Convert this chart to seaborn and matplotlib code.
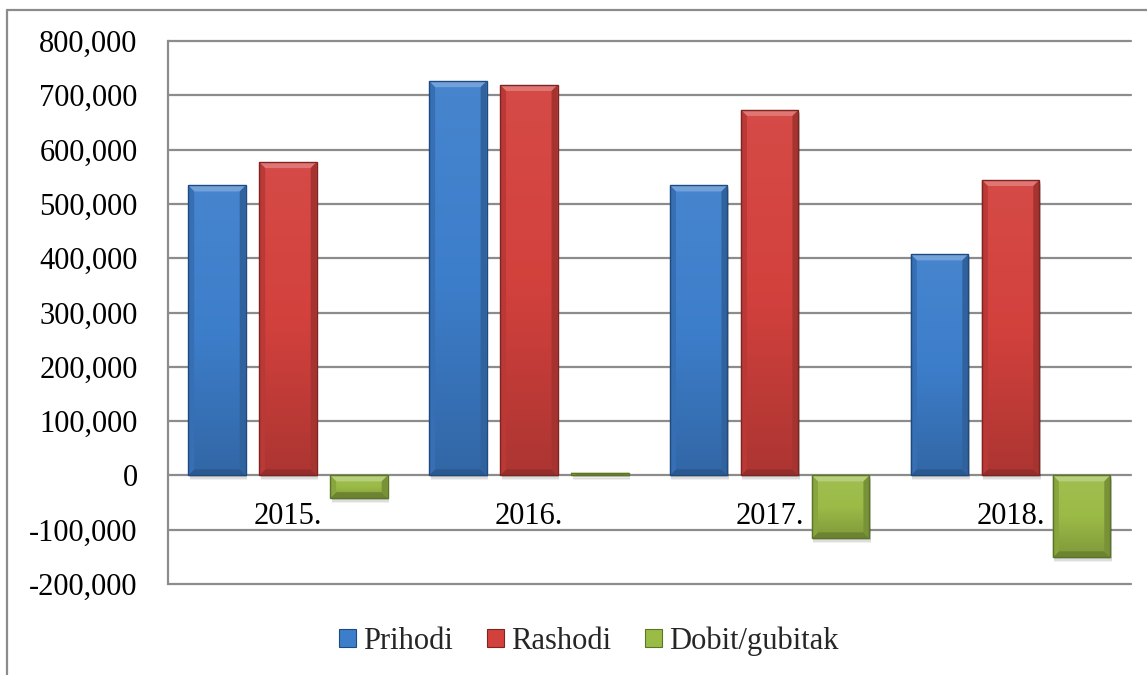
import matplotlib
matplotlib.use('Agg')
import matplotlib.pyplot as plt
import matplotlib.colors as mcolors
from matplotlib.patches import Patch, Polygon, Rectangle
from matplotlib.lines import Line2D
from matplotlib.ticker import FuncFormatter
import numpy as np
import pandas as pd
import seaborn as sns

# Data
years = ['2015.', '2016.', '2017.', '2018.']
series = ['Prihodi', 'Rashodi', 'Dobit/gubitak']
prihodi = [534000, 726000, 534000, 407000]
rashodi = [577000, 719000, 673000, 544000]
dobit = [-42000, 5000, -116000, -151000]

colors = ['#3D7ECB', '#D3413D', '#9BBB47']
edges = ['#1F4A80', '#7E2421', '#5A7526']

df = pd.DataFrame({
    'Godina': years * 3,
    'Serija': [s for s in series for _ in years],
    'Iznos': prihodi + rashodi + dobit,
})

sns.set_theme(style='white')
plt.rcParams['font.family'] = ['Liberation Serif', 'DejaVu Serif']

W, H = 1147, 675
fig = plt.figure(figsize=(W / 100, H / 100), dpi=100)
ax = fig.add_axes([167.5 / W, 1 - 584 / H, (1131 - 167.5) / W, (584 - 41) / H])

sns.barplot(data=df, x='Godina', y='Iznos', hue='Serija', palette=colors,
            width=0.884, gap=0.19, saturation=1, legend=False, ax=ax,
            linewidth=0)

ax.set_xlim(-0.5, 3.5)
ax.set_ylim(-200000, 800000)
ax.set_yticks(range(-200000, 800001, 100000))
ax.yaxis.set_major_formatter(FuncFormatter(lambda v, p: f'{int(v):,}'))
ax.set_xlabel('')
ax.set_ylabel('')

grid_c = '#8C8C8C'
ax.set_axisbelow(True)
ax.yaxis.grid(True, color=grid_c, lw=1.6)
for gl in ax.get_ygridlines():
    gl.set_clip_on(False)
for s in ['top', 'right']:
    ax.spines[s].set_visible(False)
ax.spines['left'].set_color(grid_c)
ax.spines['left'].set_linewidth(1.6)
ax.spines['bottom'].set_position(('data', 0))
ax.spines['bottom'].set_visible(False)
ax.tick_params(axis='y', length=0, pad=21.5, labelsize=22, labelcolor='black')
ax.tick_params(axis='x', length=0, pad=19, labelsize=22, labelcolor='black')

# pixel -> data scale for bevel effect
p0 = ax.transData.transform((0, 0))
p1 = ax.transData.transform((1, 100000))
ux = 1.0 / (p1[0] - p0[0])
uy = 100000.0 / (p1[1] - p0[1])


def mix(c, other, t):
    a = np.array(mcolors.to_rgb(c))
    b = np.array(mcolors.to_rgb(other))
    return tuple(a * (1 - t) + b * t)


for cont, col, ec in zip(ax.containers, colors, edges):
    for bar in cont:
        x0 = bar.get_x()
        w = bar.get_width()
        y0 = min(bar.get_y(), bar.get_y() + bar.get_height())
        y1 = max(bar.get_y(), bar.get_y() + bar.get_height())
        x1 = x0 + w
        # soft shadow
        for k, a in [(5, 0.06), (3.5, 0.08), (2, 0.10)]:
            ax.add_patch(Rectangle((x0 + 1.5 * ux, y0 - k * uy), w, y1 - y0,
                                   color='black', alpha=a, lw=0, zorder=0.9))
        # vertical gradient body
        grad = np.linspace(0, 1, 64).reshape(-1, 1)
        cm = mcolors.LinearSegmentedColormap.from_list(
            'g', [mix(col, 'black', 0.18), col, mix(col, 'white', 0.05)])
        im = ax.imshow(grad, extent=(x0, x1, y0, y1), origin='lower', cmap=cm,
                       aspect='auto', zorder=1.1, interpolation='bilinear')
        im.set_clip_path(bar)
        bx = 6 * ux
        by = min(6 * uy, (y1 - y0) / 2)
        ax.add_patch(Polygon([(x0, y1), (x1, y1), (x1 - bx, y1 - by), (x0 + bx, y1 - by)],
                             closed=True, color=mix(col, 'white', 0.28), lw=0, zorder=1.2))
        ax.add_patch(Polygon([(x0, y0), (x1, y0), (x1 - bx, y0 + by), (x0 + bx, y0 + by)],
                             closed=True, color=mix(col, 'black', 0.3), lw=0, zorder=1.2))
        ax.add_patch(Polygon([(x0, y0), (x0 + bx, y0 + by), (x0 + bx, y1 - by), (x0, y1)],
                             closed=True, color=mix(col, 'black', 0.12), lw=0, zorder=1.2))
        ax.add_patch(Polygon([(x1, y0), (x1 - bx, y0 + by), (x1 - bx, y1 - by), (x1, y1)],
                             closed=True, color=mix(col, 'black', 0.22), lw=0, zorder=1.2))
        ax.add_patch(Rectangle((x0, y0), w, y1 - y0, fill=False, ec=ec, lw=1,
                               zorder=1.3))

# legend
handles = [Patch(facecolor=c, edgecolor=e, lw=0.8) for c, e in zip(colors, edges)]
fig.legend(handles, series, loc='center', bbox_to_anchor=(589 / W, 1 - 641 / H),
           ncol=3, frameon=False, fontsize=22, handlelength=0.55, handleheight=0.55,
           handletextpad=0.25, columnspacing=1.1, borderpad=0)

# chart area border (only top/left visible in the crop)
fig.add_artist(Line2D([7 / W, 1], [1 - 10 / H, 1 - 10 / H], color=grid_c, lw=1.6))
fig.add_artist(Line2D([7 / W, 7 / W], [0, 1 - 10 / H], color=grid_c, lw=1.6))

fig.savefig('out.png', dpi=100)
